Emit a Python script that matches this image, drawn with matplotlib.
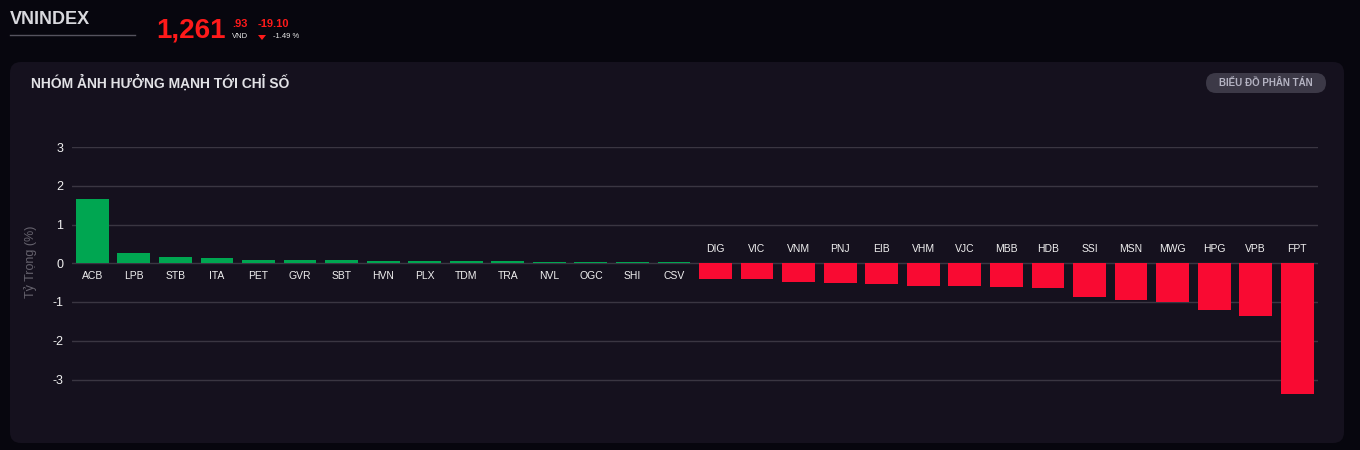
import matplotlib
matplotlib.use('Agg')
import matplotlib.pyplot as plt
from matplotlib.patches import FancyBboxPatch, Polygon
from matplotlib.lines import Line2D

# Dữ liệu: mã cổ phiếu và tỷ trọng ảnh hưởng (%)
tickers = ['ACB', 'LPB', 'STB', 'ITA', 'PET', 'GVR', 'SBT', 'HVN', 'PLX', 'TDM',
           'TRA', 'NVL', 'OGC', 'SHI', 'CSV', 'DIG', 'VIC', 'VNM', 'PNJ', 'EIB',
           'VHM', 'VJC', 'MBB', 'HDB', 'SSI', 'MSN', 'MWG', 'HPG', 'VPB', 'FPT']
weights = [1.66, 0.27, 0.16, 0.14, 0.09, 0.08, 0.09, 0.06, 0.06, 0.06,
           0.06, 0.04, 0.04, 0.04, 0.04, -0.41, -0.41, -0.49, -0.52, -0.54,
           -0.59, -0.59, -0.62, -0.64, -0.88, -0.95, -1.01, -1.21, -1.37, -3.38]
y_ticks = [-3, -2, -1, 0, 1, 2, 3]

index_name = 'VNINDEX'
index_value = '1,261'
index_decimal = '.93'
index_change = '-19.10'
index_pct = '-1.49 %'

W, H = 1360, 450
BG = '#07060e'
CARD = '#15111e'
GREEN = '#00a651'
RED = '#f90a32'
GRID = '#3a3642'
HEAD = 'Liberation Sans'

plt.rcParams['font.family'] = ['Liberation Sans', 'DejaVu Sans']

fig = plt.figure(figsize=(W / 100, H / 100), dpi=100, facecolor=BG)


def fx(px):
    return px / W


def fy(py):
    return 1 - py / H


# khung thẻ
card = FancyBboxPatch((fx(10), fy(443)), fx(1334), (443 - 62) / H,
                      boxstyle='round,pad=0,rounding_size=0.008',
                      transform=fig.transFigure, facecolor=CARD, edgecolor='none',
                      mutation_aspect=W / H, zorder=-5)
fig.patches.append(card)

# tiêu đề trên cùng
fig.text(fx(10), fy(20), index_name, color='#d9d9de', fontsize=13,
         fontweight='bold', family=HEAD, va='center', ha='left')
fig.add_artist(Line2D([fx(10), fx(135)], [fy(35), fy(35)], color='#55535e', lw=1))
fig.text(fx(156), fy(31), index_value, color='#ff1a1a', fontsize=20,
         fontweight='bold', family=HEAD, va='center', ha='left')
fig.text(fx(232), fy(24), index_decimal, color='#ff1a1a', fontsize=8,
         fontweight='bold', family=HEAD, va='center', ha='left')
fig.text(fx(232), fy(37), 'VND', color='#e8e8e8', fontsize=5.5,
         family=HEAD, va='center', ha='left')
fig.text(fx(258), fy(24), index_change, color='#ff1a1a', fontsize=8,
         fontweight='bold', family=HEAD, va='center', ha='left')
fig.add_artist(Polygon([[fx(258), fy(35)], [fx(266), fy(35)], [fx(262), fy(40)]],
                       closed=True, transform=fig.transFigure,
                       facecolor='#ff1a1a', edgecolor='none'))
fig.text(fx(273), fy(37), index_pct, color='#e8e8e8', fontsize=5.5,
         family=HEAD, va='center', ha='left')

fig.text(fx(31), fy(83), 'NHÓM ẢNH HƯỞNG MẠNH TỚI CHỈ SỐ', color='#e2e2e6',
         fontsize=10, fontweight='bold', family=HEAD, va='center', ha='left')

btn = FancyBboxPatch((fx(1206), fy(93)), fx(120), 20 / H,
                     boxstyle='round,pad=0,rounding_size=0.0074',
                     transform=fig.transFigure, facecolor='#3c3947', edgecolor='none',
                     mutation_aspect=W / H, zorder=-4)
fig.patches.append(btn)
fig.text(fx(1266), fy(83), 'BIỂU ĐỒ PHÂN TÁN', color='#b4b3c2', fontsize=7,
         fontweight='bold', family=HEAD, va='center', ha='center')

# biểu đồ cột
ax = fig.add_axes([fx(71.5), fy(395), fx(1318 - 71.5), (395 - 147) / H])
ax.set_zorder(2)
ax.set_facecolor('none')
x = list(range(len(tickers)))
colors = [GREEN if v >= 0 else RED for v in weights]
ax.bar(x, weights, width=0.79, color=colors, zorder=3)
ax.set_xlim(-0.5, len(tickers) - 0.5)
ax.set_ylim(-3.4, 3)
ax.set_yticks(y_ticks)
ax.set_yticklabels([str(t) for t in y_ticks])
ax.set_xticks([])
for t in y_ticks:
    ax.axhline(t, color=GRID, lw=1, zorder=1)
for s in ax.spines.values():
    s.set_visible(False)
ax.tick_params(axis='y', length=0, pad=6, labelsize=9, labelcolor='#f0f0f0')

for i, (name, v) in enumerate(zip(tickers, weights)):
    if v >= 0:
        ax.annotate(name, (i, 0), xytext=(0, -9), textcoords='offset points',
                    ha='center', va='center', color='#f0f0f0', fontsize=7.5)
    else:
        ax.annotate(name, (i, 0), xytext=(0, 10), textcoords='offset points',
                    ha='center', va='center', color='#f0f0f0', fontsize=7.5)

fig.text(fx(31), fy(262), 'Tỷ Trọng (%)', color='#66636e', fontsize=9,
         rotation=90, va='center', ha='center')

fig.savefig('out.png', dpi=100, facecolor=BG)
